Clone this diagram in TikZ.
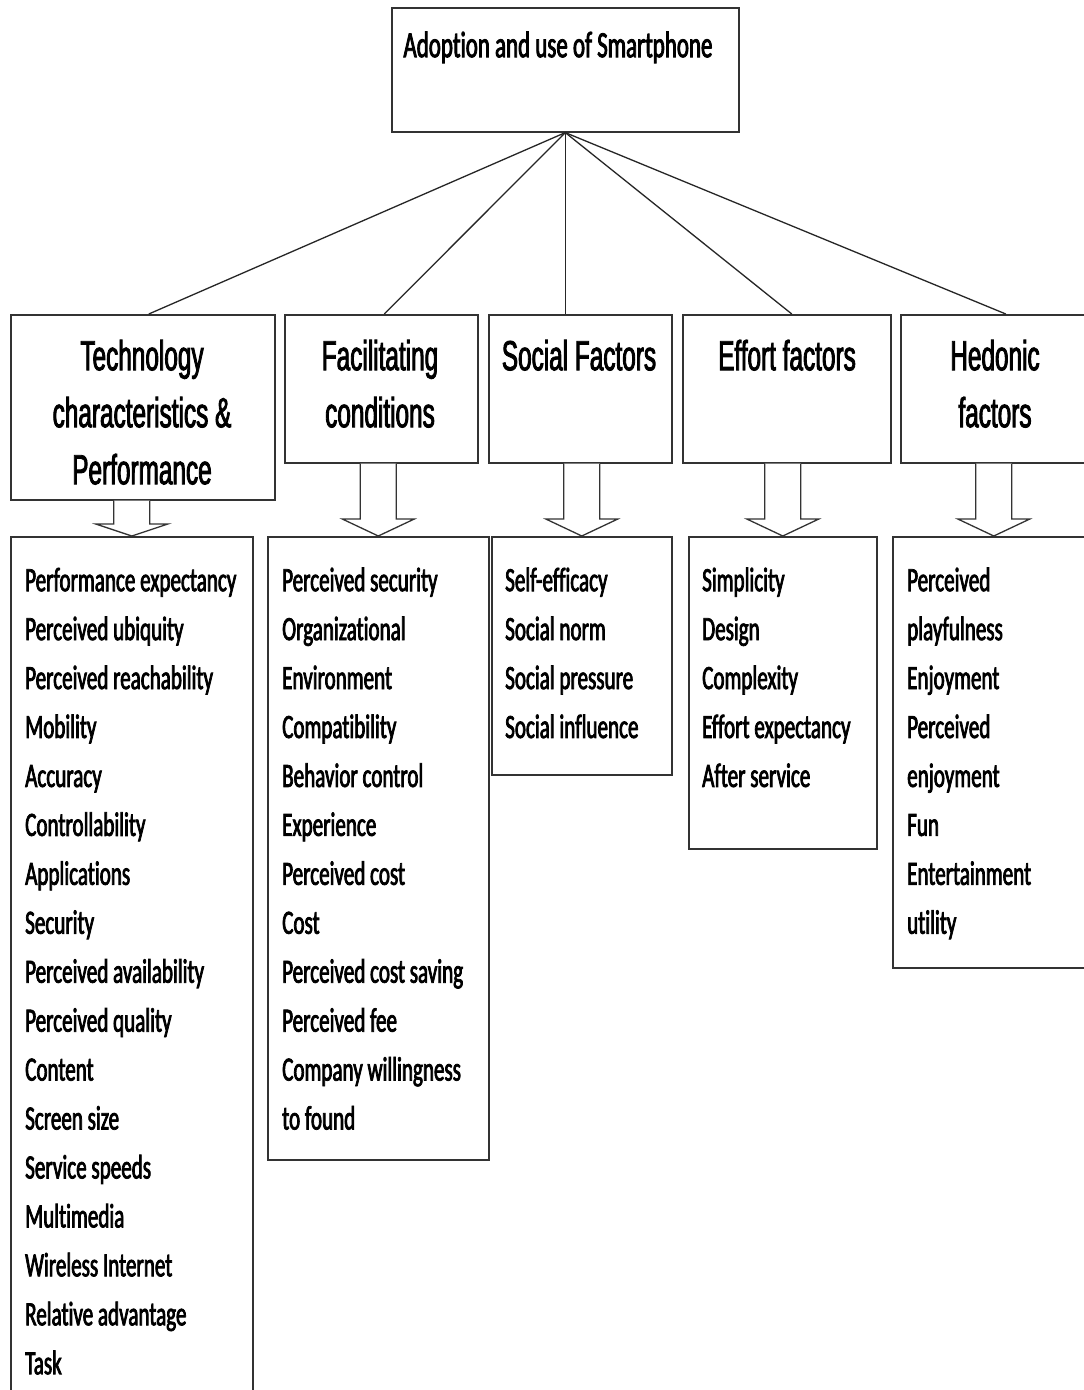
\documentclass[tikz,border=0pt]{standalone}
\usepackage{fontspec}
\usetikzlibrary{calc}
\newfontfamily\listfont[FakeStretch=0.62,FakeBold=2.2,Ligatures=NoCommon]{Carlito}
\newfontfamily\headfont[FakeStretch=0.58,FakeBold=2]{Liberation Sans}
\newcommand\blockarr[3]{%
  \draw[barrow] ($(#1.south -| #2.north)+(-18,0)$) -- ($(#2.north)+(-18,-#3)$)
    -- ($(#2.north)+(-36,-#3)$) -- (#2.north) -- ($(#2.north)+(36,-#3)$)
    -- ($(#2.north)+(18,-#3)$) -- ($(#1.south -| #2.north)+(18,0)$);}
\begin{document}
\begin{tikzpicture}[x=1pt,y=-1pt,
  box/.style={draw=black!80, line width=1.6pt, inner sep=0pt, anchor=north west},
  link/.style={draw=black!85, line width=1.3pt},
  barrow/.style={draw=black!80, line width=1.3pt, line join=miter, fill=white},
  listtxt/.style={font=\listfont\fontsize{34}{48.94}\selectfont, align=left, inner sep=0pt, anchor=north west},
  headtxt/.style={font=\headfont\fontsize{42}{57}\selectfont, align=center, inner sep=0pt, anchor=north},
  titletxt/.style={font=\listfont\fontsize{37}{47}\selectfont, inner sep=0pt, anchor=north}]
\clip (0,0) rectangle (1084,1390);
\fill[white] (0,0) rectangle (1084,1390);
% top
\node[box, minimum width=347pt, minimum height=124pt] (top) at (391,7) {};
\node[titletxt] (title) at (558,24.1) {\strut Adoption and use of Smartphone};
% headers
\node[box, minimum width=264pt, minimum height=185pt] (h1) at (10,314) {};
\node[box, minimum width=193pt, minimum height=148pt] (h2) at (284,314) {};
\node[box, minimum width=183pt, minimum height=148pt] (h3) at (488,314) {};
\node[box, minimum width=208pt, minimum height=148pt] (h4) at (682,314) {};
\node[box, minimum width=194pt, minimum height=148pt] (h5) at (900,314) {};
\node[headtxt] (ht1) at (142,330.1) {\strut Technology\\characteristics \&\\Performance};
\node[headtxt] (ht2) at (380,330.1) {\strut Facilitating\\conditions};
\node[headtxt] (ht3) at (579,330.1) {\strut Social Factors};
\node[headtxt] (ht4) at (787,330.1) {\strut Effort factors};
\node[headtxt] (ht5) at (995,330.1) {\strut Hedonic\\factors};
% connectors
\draw[link] (top.south) -- ($(h1.north)+(6,0)$);
\draw[link] (top.south) -- ($(h2.north)+(3,0)$);
\draw[link] (top.south) -- (top.south |- h3.north);
\draw[link] (top.south) -- ($(h4.north)+(5,0)$);
\draw[link] (top.south) -- ($(h5.north)+(8,0)$);
% content boxes
\node[box, minimum width=242pt, minimum height=880pt] (l1) at (10,536) {};
\node[box, minimum width=221pt, minimum height=623pt] (l2) at (267,536) {};
\node[box, minimum width=180pt, minimum height=238pt] (l3) at (491,536) {};
\node[box, minimum width=188pt, minimum height=312pt] (l4) at (688,536) {};
\node[box, minimum width=202pt, minimum height=431pt] (l5) at (892,536) {};
% block arrows
\blockarr{h1}{l1}{12}
\blockarr{h2}{l2}{17}
\blockarr{h3}{l3}{17}
\blockarr{h4}{l4}{17}
\blockarr{h5}{l5}{17}
% lists
\node[listtxt] (lt1) at (25,556.7) {\strut Performance expectancy\\Perceived ubiquity\\Perceived reachability\\Mobility\\Accuracy\\Controllability\\Applications\\Security\\Perceived availability\\Perceived quality\\Content\\Screen size\\Service speeds\\Multimedia\\Wireless Internet\\Relative advantage\\Task};
\node[listtxt] (lt2) at (282,556.7) {\strut Perceived security\\Organizational\\Environment\\Compatibility\\Behavior control\\Experience\\Perceived cost\\Cost\\Perceived cost saving\\Perceived fee\\Company willingness\\to found};
\node[listtxt] (lt3) at (505,556.7) {\strut Self-efficacy\\Social norm\\Social pressure\\Social influence};
\node[listtxt] (lt4) at (702,556.7) {\strut Simplicity\\Design\\Complexity\\Effort expectancy\\After service};
\node[listtxt] (lt5) at (907,556.7) {\strut Perceived\\playfulness\\Enjoyment\\Perceived\\enjoyment\\Fun\\Entertainment\\utility};
\end{tikzpicture}
\end{document}
